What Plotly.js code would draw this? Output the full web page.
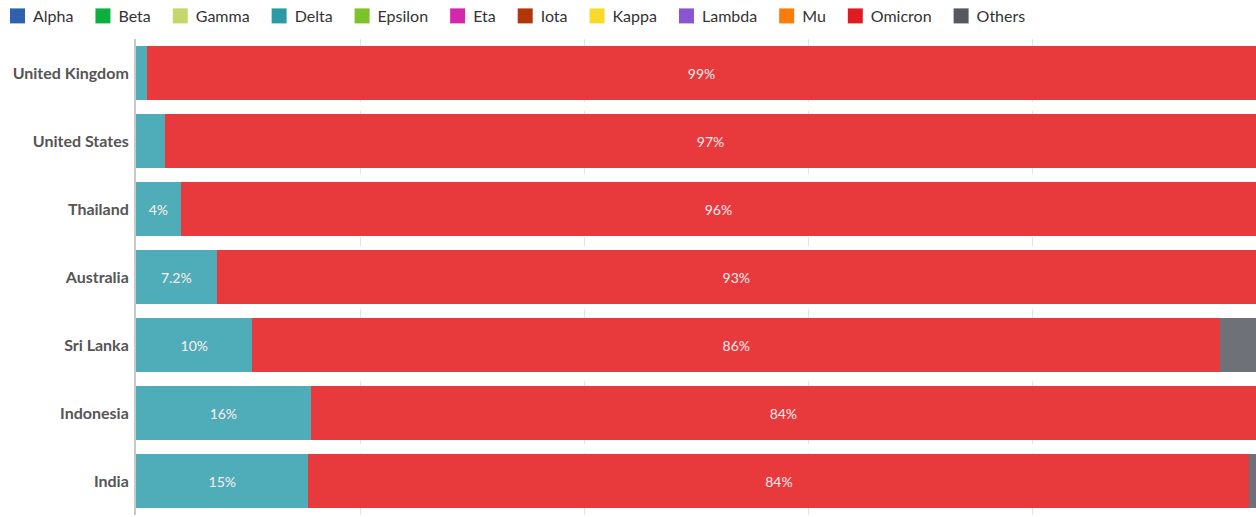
<!DOCTYPE html>
<html>
<head>
<meta charset="utf-8">
<script src="https://cdn.plot.ly/plotly-3.0.1.min.js"></script>
<style>
html,body{margin:0;padding:0;background:#fff;overflow:hidden;}
#chart{position:absolute;left:-7px;top:-1px;width:1263px;height:518px;}
</style>
</head>
<body>
<div id="chart"></div>
<script>
const countries = ["United Kingdom","United States","Thailand","Australia","Sri Lanka","Indonesia","India"];
const variants = ["Alpha","Beta","Gamma","Delta","Epsilon","Eta","Iota","Kappa","Lambda","Mu","Omicron","Others"];
const legendColors = ["#2f5fae","#0bb03f","#c4d66c","#2a9ba6","#7cc22a","#d526b0","#b3350c","#fbd92c","#8a55d1","#fb7c07","#e01b22","#555861"];
const barColors    = ["#2f5fae","#0bb03f","#c4d66c","#4eadb8","#7cc22a","#d526b0","#b3350c","#fbd92c","#8a55d1","#fb7c07","#e8393d","#6e7178"];
const deltaShare   = [1.0, 2.6, 4.0, 7.2, 10.4, 15.6, 15.4];
const omicronShare = [99.0, 97.4, 96.0, 92.8, 86.4, 84.4, 84.0];
const othersShare  = [0, 0, 0, 0, 3.2, 0, 0.6];
const zeros = [0,0,0,0,0,0,0];

const shares = {Delta: deltaShare, Omicron: omicronShare, Others: othersShare};

function fmt(v){ return v >= 3.5 ? (+v.toPrecision(2)) + "%" : ""; }

const traces = variants.map((name, i) => {
  const vals = shares[name] || zeros;
  return {
    type: "bar",
    orientation: "h",
    name: name,
    y: countries,
    x: vals,
    text: vals.map(fmt),
    textposition: "inside",
    insidetextanchor: "middle",
    textfont: {family: "Lato, 'Open Sans', sans-serif", size: 14, color: "#fdeeee"},
    marker: {color: barColors[i], line: {width: 0}},
    hoverinfo: "name+x"
  };
});

const layout = {
  width: 1263, height: 518,
  margin: {l: 143, r: 0, t: 40, b: 2, pad: 0},
  barmode: "stack",
  bargap: 0.2,
  paper_bgcolor: "#fff",
  plot_bgcolor: "#fff",
  font: {family: "Lato, 'Open Sans', sans-serif", color: "#333"},
  showlegend: true,
  legend: {
    orientation: "h",
    xref: "container", yref: "container",
    x: 0, y: 1, xanchor: "left", yanchor: "top",
    font: {size: 16, color: "#333"},
    traceorder: "normal",
    itemclick: false
  },
  xaxis: {
    range: [0, 100],
    dtick: 20,
    showticklabels: false,
    showgrid: true,
    gridcolor: "#e2e2e2",
    griddash: "dash",
    zeroline: false,
    ticks: ""
  },
  yaxis: {
    autorange: "reversed",
    showline: true,
    linecolor: "#c8c8c8",
    linewidth: 2,
    ticks: "",
    ticklabelstandoff: 2,
    tickfont: {size: 16, color: "#555", weight: "bold"}
  }
};

function styleLegend(){
  const items = document.querySelectorAll(".legend .traces");
  items.forEach((g, i) => {
    g.querySelectorAll(".legendpoints path").forEach(p => {
      p.setAttribute("d", "M12,7.5H-3V-7.5H12Z");
      p.style.fill = legendColors[i];
      p.style.strokeWidth = "0px";
    });
  });
}

const gd = document.getElementById("chart");
Plotly.newPlot(gd, traces, layout, {displayModeBar: false, staticPlot: true}).then(() => {
  styleLegend();
  gd.on("plotly_afterplot", styleLegend);
});
</script>
</body>
</html>
